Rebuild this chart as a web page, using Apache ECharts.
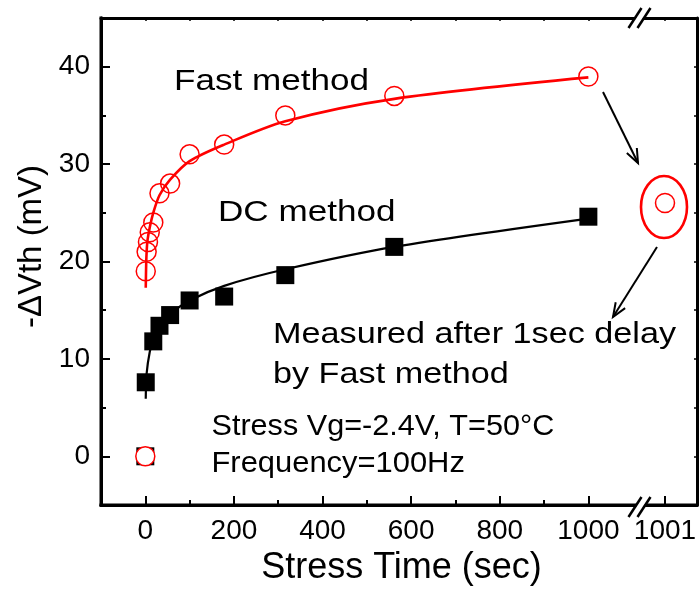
<!DOCTYPE html>
<html><head><meta charset="utf-8">
<script src="https://cdn.jsdelivr.net/npm/echarts@6/dist/echarts.min.js"></script>
<style>html,body{margin:0;padding:0;background:#fff}#c{width:700px;height:593px}</style>
</head><body><div id="c"></div>
<script>
// ---- data ----
const fastTime = [0, 1, 3, 6, 10, 18, 32, 56, 100, 178, 316, 562, 1000];
const fastDv   = [0, 19, 21, 22, 23, 24, 27, 28, 31, 32, 35, 37, 39];
const dcTime   = [0, 1, 18, 32, 56, 100, 178, 316, 562, 1000];
const dcDv     = [0, 7.6, 11.8, 13.4, 14.5, 16.0, 16.4, 18.6, 21.5, 24.6];
const fastFitTime = [1, 2, 3, 5, 10, 18, 32, 56, 100, 178, 316, 562, 1000];
const fastFitDv   = [17.3, 19.8, 21.0, 22.2, 23.5, 25.0, 26.8, 28.4, 30.3, 32.0, 34.4, 36.7, 38.9];
const dcFitTime = [1, 3, 10, 18, 32, 56, 100, 178, 316, 562, 1000];
const dcFitDv   = [5.9, 8.5, 10.7, 12.0, 13.3, 14.6, 16.0, 17.5, 19.2, 21.5, 24.4];
const delayedTime = [1001];
const delayedDv   = [26];
const xMajorTicks = [0, 200, 400, 600, 800, 1000];
const xMinorTicks = [100, 300, 500, 700, 900];
const yMajorTicks = [0, 10, 20, 30, 40];
const yMinorTicks = [5, 15, 25, 35];
const xBreakTicks = [1001];

const zip = (a, b) => a.map((v, i) => [v, b[i]]);
const FONT = '"Liberation Sans", Arial, Helvetica, sans-serif';
const chart = echarts.init(document.getElementById('c'));

const axLine = () => ({show: true, onZero: false, lineStyle: {color: '#000', width: 3}});
const noLine = () => ({show: false, onZero: false});
const noSplit = () => ({show: false});
const plain = v => String(v);
const circleStyle = () => ({color: 'rgba(0,0,0,0)', borderColor: '#ff0000', borderWidth: 1.5, opacity: 1});

const fastData = zip(fastTime, fastDv).map((p, i) =>
  i === 0 ? {value: p, itemStyle: {color: '#fff', borderColor: '#ff0000', borderWidth: 1.5, opacity: 1}} : p);

chart.setOption({
  animation: false,
  backgroundColor: '#fff',
  textStyle: {fontFamily: FONT},
  grid: [
    {left: 101, top: 18, width: 537, height: 487},
    {left: 641, top: 18, width: 56, height: 487},
    {left: 101, top: 18, width: 537, height: 487}
  ],
  xAxis: [
    {gridIndex: 0, type: 'value', position: 'bottom', min: -100, max: 1112,
     axisLine: axLine(), splitLine: noSplit(),
     axisTick: {inside: true, length: 9, customValues: xMajorTicks, lineStyle: {width: 2, color: '#000'}},
     axisLabel: {customValues: xMajorTicks, formatter: plain, fontSize: 28, color: '#000', margin: 12, fontFamily: FONT},
     name: 'Stress Time (sec)', nameLocation: 'middle', nameGap: 39,
     nameTextStyle: {fontSize: 36, color: '#000', fontFamily: FONT, padding: [0, 0, 0, 64]}},
    {gridIndex: 0, type: 'value', position: 'top', min: -100, max: 1112, interval: 100,
     axisLine: axLine(), splitLine: noSplit(),
     axisTick: {inside: true, length: 3, lineStyle: {width: 1.5, color: '#000'}},
     axisLabel: {show: false}},
    {gridIndex: 1, type: 'value', position: 'bottom', min: 1000.4, max: 1001.8,
     axisLine: axLine(), splitLine: noSplit(),
     axisTick: {inside: true, length: 9, customValues: xBreakTicks, lineStyle: {width: 2, color: '#000'}},
     axisLabel: {customValues: xBreakTicks, formatter: plain, fontSize: 28, color: '#000', margin: 12, fontFamily: FONT}},
    {gridIndex: 1, type: 'value', position: 'top', min: 1000.4, max: 1001.8,
     axisLine: axLine(), splitLine: noSplit(),
     axisTick: {inside: true, length: 3, customValues: xBreakTicks, lineStyle: {width: 1.5, color: '#000'}},
     axisLabel: {show: false}},
    {gridIndex: 2, type: 'value', position: 'bottom', min: -100, max: 1112,
     axisLine: noLine(), splitLine: noSplit(),
     axisTick: {inside: true, length: 5, customValues: xMinorTicks, lineStyle: {width: 2, color: '#000'}},
     axisLabel: {show: false}}
  ],
  yAxis: [
    {gridIndex: 0, type: 'value', position: 'left', min: -5, max: 45,
     axisLine: axLine(), splitLine: noSplit(),
     axisTick: {inside: true, length: 9, customValues: yMajorTicks, lineStyle: {width: 2, color: '#000'}},
     axisLabel: {customValues: yMajorTicks, formatter: plain, fontSize: 28, color: '#000', margin: 11, fontFamily: FONT},
     name: '-\u0394Vth (mV)', nameLocation: 'middle', nameGap: 53, nameRotate: 90,
     nameTextStyle: {fontSize: 33, color: '#000', fontFamily: FONT, padding: [0, 0, 0, 30]}},
    {gridIndex: 1, type: 'value', position: 'right', min: -5, max: 45, interval: 5,
     axisLine: axLine(), splitLine: noSplit(),
     axisTick: {inside: true, length: 3, lineStyle: {width: 1.5, color: '#000'}},
     axisLabel: {show: false}},
    {gridIndex: 2, type: 'value', position: 'left', min: -5, max: 45,
     axisLine: noLine(), splitLine: noSplit(),
     axisTick: {inside: true, length: 5, customValues: yMinorTicks, lineStyle: {width: 2, color: '#000'}},
     axisLabel: {show: false}}
  ],
  series: [
    {name: 'DC fit', type: 'line', xAxisIndex: 0, yAxisIndex: 0, data: zip(dcFitTime, dcFitDv),
     symbol: 'none', smooth: 0.3, lineStyle: {color: '#000', width: 2.2}, z: 2},
    {name: 'Fast fit', type: 'line', xAxisIndex: 0, yAxisIndex: 0, data: zip(fastFitTime, fastFitDv),
     symbol: 'none', smooth: 0.3, lineStyle: {color: '#ff0000', width: 2.6}, z: 3},
    {name: 'DC method', type: 'scatter', xAxisIndex: 0, yAxisIndex: 0, data: zip(dcTime, dcDv),
     symbol: 'rect', symbolSize: 18, itemStyle: {color: '#000', opacity: 1}, z: 4},
    {name: 'Fast method', type: 'scatter', xAxisIndex: 0, yAxisIndex: 0, data: fastData,
     symbol: 'circle', symbolSize: 19, itemStyle: circleStyle(), z: 5},
    {name: 'After 1 s delay', type: 'scatter', xAxisIndex: 2, yAxisIndex: 1, data: zip(delayedTime, delayedDv),
     symbol: 'circle', symbolSize: 19, itemStyle: circleStyle(), z: 5}
  ]
});

// ---- annotations ----
function arrow(x1, y1, x2, y2) {
  const a = Math.atan2(y2 - y1, x2 - x1), L = 15, w = 0.38;
  return [
    {type: 'line', shape: {x1, y1, x2, y2}, style: {stroke: '#000', lineWidth: 2}, z: 100},
    {type: 'polyline', shape: {points: [[x2 - L * Math.cos(a - w), y2 - L * Math.sin(a - w)], [x2, y2],
      [x2 - L * Math.cos(a + w), y2 - L * Math.sin(a + w)]]}, style: {stroke: '#000', lineWidth: 2, fill: null}, z: 100}
  ];
}
function brk(cx, cy) {
  const dx = 6.5, dy = 10, g = 4.5;
  return [
    {type: 'polygon', shape: {points: [[cx - g - dx + 1, cy + dy], [cx - g + dx + 1, cy - dy], [cx + g + dx - 1, cy - dy], [cx + g - dx - 1, cy + dy]]},
     style: {fill: '#fff'}, z: 99},
    {type: 'line', shape: {x1: cx - g - dx, y1: cy + dy, x2: cx - g + dx, y2: cy - dy}, style: {stroke: '#000', lineWidth: 2.5}, z: 100},
    {type: 'line', shape: {x1: cx + g - dx, y1: cy + dy, x2: cx + g + dx, y2: cy - dy}, style: {stroke: '#000', lineWidth: 2.5}, z: 100}
  ];
}
function txt(s, x, y, size, sx) {
  return {type: 'text', x: x, y: y, scaleX: sx || 1, z: 100,
    style: {text: s, x: 0, y: 0, font: size + 'px ' + FONT, fill: '#000', align: 'left', verticalAlign: 'middle'}};
}
function seg(x1, y1, x2, y2) {
  return {type: 'line', shape: {x1, y1, x2, y2}, style: {stroke: '#000', lineWidth: 3, lineCap: 'square'}, z: 50};
}
// plot frame corners taken from the axes' own scales
const pTL = chart.convertToPixel({xAxisIndex: 0, yAxisIndex: 0}, [-100, 45]);
const pBR = chart.convertToPixel({xAxisIndex: 0, yAxisIndex: 0}, [1112, -5]);
const qBL = chart.convertToPixel({xAxisIndex: 2, yAxisIndex: 1}, [1000.4, -5]);
const qBR = chart.convertToPixel({xAxisIndex: 2, yAxisIndex: 1}, [1001.8, -5]);
const c = chart.convertToPixel({xAxisIndex: 2, yAxisIndex: 1}, [delayedTime[0], delayedDv[0]]);
const g = [].concat(
  [seg(pTL[0], pTL[1], pTL[0], pBR[1]), seg(pTL[0], pBR[1], pBR[0], pBR[1]), seg(qBL[0], qBL[1], qBR[0], qBR[1])],
  [{type: 'ellipse', shape: {cx: c[0] - 1, cy: c[1] + 4, rx: 23, ry: 31}, style: {stroke: '#ff0000', lineWidth: 2.6, fill: null}, z: 100}],
  arrow(603, 92, 638, 163),
  arrow(657, 247, 613, 317),
  brk(639.5, 18), brk(639.5, 507),
  [txt('Fast method', 174, 82, 30, 1.17),
   txt('DC method', 218, 212.5, 30, 1.17),
   txt('Measured after 1sec delay', 273, 334.5, 30, 1.14),
   txt('by Fast method', 273, 374.5, 30, 1.14),
   txt('Stress Vg=-2.4V, T=50\u00B0C', 211.5, 427, 30, 1.02),
   txt('Frequency=100Hz', 211.5, 463.5, 30, 1.03)]
);
chart.setOption({graphic: g});
</script>
</body></html>
